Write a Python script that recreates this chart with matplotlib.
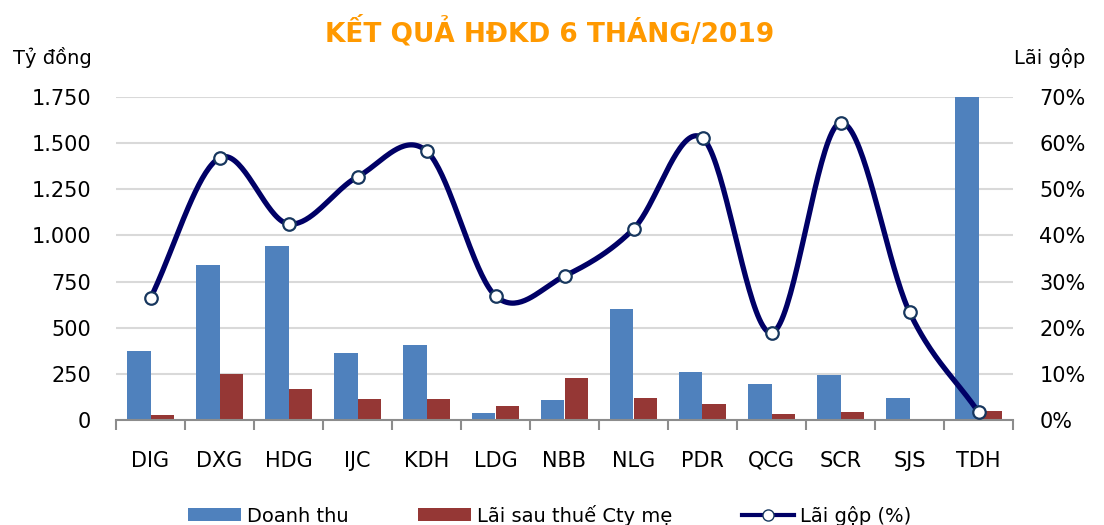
import numpy as np
import matplotlib
matplotlib.use("Agg")
import matplotlib.pyplot as plt
from matplotlib.ticker import FuncFormatter, FixedLocator
from matplotlib.lines import Line2D
from matplotlib.patches import Patch

plt.rcParams['font.family'] = ['DejaVu Sans']

categories = ["DIG", "DXG", "HDG", "IJC", "KDH", "LDG", "NBB", "NLG", "PDR", "QCG", "SCR", "SJS", "TDH"]
doanh_thu = [374, 840, 943, 363, 406, 38, 108, 601, 260, 195, 244, 119, 1750]
lai_sau_thue = [27, 249, 168, 114, 114, 76, 228, 119, 87, 33, 43, 3, 49]
lai_gop = [26.4, 56.8, 42.5, 52.7, 58.3, 26.9, 31.2, 41.4, 61.1, 18.9, 64.4, 23.4, 1.7]

BLUE = "#4F81BD"
RED = "#953735"
NAVY = "#000066"


def catmull_rom(xs, ys, n=40):
    xs = np.asarray(xs, float)
    ys = np.asarray(ys, float)
    px = np.concatenate([[2 * xs[0] - xs[1]], xs, [2 * xs[-1] - xs[-2]]])
    py = np.concatenate([[2 * ys[0] - ys[1]], ys, [2 * ys[-1] - ys[-2]]])
    outx, outy = [], []
    for i in range(1, len(px) - 2):
        t = np.linspace(0, 1, n, endpoint=False)
        for arr, out in ((px, outx), (py, outy)):
            p0, p1, p2, p3 = arr[i - 1], arr[i], arr[i + 1], arr[i + 2]
            out.extend(0.5 * ((2 * p1) + (-p0 + p2) * t
                              + (2 * p0 - 5 * p1 + 4 * p2 - p3) * t ** 2
                              + (-p0 + 3 * p1 - 3 * p2 + p3) * t ** 3))
    outx.append(xs[-1])
    outy.append(ys[-1])
    return np.array(outx), np.array(outy)


fig = plt.figure(figsize=(11.04, 5.25), dpi=100)
ax = fig.add_axes([116 / 1104, 1 - 420 / 525, (1013 - 116) / 1104, (420 - 97) / 525])
ax2 = ax.twinx()

x = np.arange(len(categories))
w = 0.345
ax.bar(x - w / 2, doanh_thu, width=w, color=BLUE, zorder=2)
ax.bar(x + w / 2, lai_sau_thue, width=w, color=RED, zorder=2)

ax.set_xlim(-0.5, len(categories) - 0.5)
ax.set_ylim(0, 1750)
ax.set_yticks(np.arange(0, 1751, 250))
ax.yaxis.set_major_formatter(FuncFormatter(lambda v, p: f"{int(v):,}".replace(",", ".")))
ax.grid(axis='y', color="#D9D9D9", linewidth=1.5, zorder=0)
ax.set_axisbelow(True)
for s in ['top', 'right', 'left']:
    ax.spines[s].set_visible(False)
ax.spines['bottom'].set_color("#8C8C8C")
ax.spines['bottom'].set_linewidth(1.5)
ax.set_xticks(x)
ax.set_xticklabels(categories)
ax.tick_params(axis='x', length=0, labelsize=15, pad=22)
ax.xaxis.set_minor_locator(FixedLocator(np.arange(-0.5, len(categories), 1)))
ax.tick_params(axis='x', which='minor', length=7, color="#8C8C8C", width=1.5)
ax.tick_params(axis='y', length=0, labelsize=15, pad=18)

sx, sy = catmull_rom(x, lai_gop)
ax2.plot(sx, sy, color=NAVY, linewidth=3.8, zorder=3, solid_capstyle='round')
ax2.plot(x, lai_gop, linestyle='none', marker='o', markersize=9,
         markerfacecolor='white', markeredgecolor="#17375E", markeredgewidth=1.6, zorder=4)
ax2.set_ylim(0, 70)
ax2.set_yticks(np.arange(0, 71, 10))
ax2.yaxis.set_major_formatter(FuncFormatter(lambda v, p: f"{int(v)}%"))
ax2.tick_params(axis='y', length=0, labelsize=15, pad=19)
for s in ['top', 'right', 'left', 'bottom']:
    ax2.spines[s].set_visible(False)
ax2.set_xlim(-0.5, len(categories) - 0.5)

fig.text(550 / 1104, 1 - 32 / 525, "KẾT QUẢ HĐKD 6 THÁNG/2019", ha='center', va='center',
         fontsize=19, fontweight='bold', color="#FF9900")
fig.text(52 / 1104, 1 - 58 / 525, "Tỷ đồng", ha='center', va='center', fontsize=14)
fig.text(1050 / 1104, 1 - 58 / 525, "Lãi gộp", ha='center', va='center', fontsize=14)

handles = [Patch(facecolor=BLUE), Patch(facecolor=RED),
           Line2D([0], [0], color=NAVY, linewidth=3, marker='o', markersize=8,
                  markerfacecolor='white', markeredgecolor="#17375E")]
labels = ["Doanh thu", "Lãi sau thuế Cty mẹ", "Lãi gộp (%)"]
fig.legend(handles, labels, loc='center', bbox_to_anchor=(550 / 1104, 1 - 515 / 525), ncol=3,
           frameon=False, fontsize=14, handlelength=2.7, handleheight=0.6,
           columnspacing=3.6, handletextpad=0.3)

fig.savefig("out.png", dpi=100)
